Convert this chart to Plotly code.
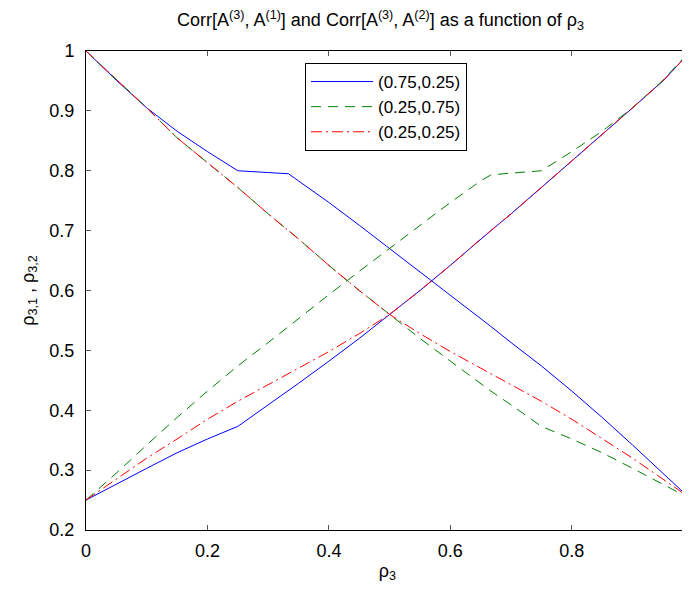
import plotly.graph_objects as go

# x grid (rho_3)
rho3 = [0, 0.05, 0.1, 0.15, 0.2, 0.25, 0.3, 1/3, 0.35, 0.4, 0.45, 0.5,
        0.55, 0.6, 0.65, 2/3, 0.7, 0.75, 0.8, 0.85, 0.9, 0.95, 0.99]

# (0.75,0.25)
blue_desc = [1.0, 0.951, 0.905, 0.866, 0.832, 0.800, 0.797, 0.795, 0.783, 0.747, 0.709, 0.670,
             0.632, 0.593, 0.553, 0.540, 0.513, 0.474, 0.432, 0.388, 0.342, 0.295, 0.257]
blue_asc = [0.250, 0.277, 0.303, 0.329, 0.352, 0.373, 0.409, 0.432, 0.445, 0.482, 0.520, 0.560,
            0.600, 0.642, 0.686, 0.700, 0.728, 0.772, 0.816, 0.860, 0.905, 0.950, 0.993]
# (0.25,0.75)
green_desc = [1.0, 0.952, 0.905, 0.855, 0.813, 0.772, 0.728, 0.700, 0.686, 0.642, 0.600, 0.560,
              0.520, 0.482, 0.445, 0.432, 0.409, 0.373, 0.352, 0.329, 0.303, 0.277, 0.255]
green_asc = [0.250, 0.295, 0.342, 0.388, 0.432, 0.474, 0.513, 0.540, 0.553, 0.593, 0.632, 0.670,
             0.709, 0.747, 0.783, 0.793, 0.796, 0.800, 0.832, 0.866, 0.905, 0.951, 0.995]
# (0.25,0.25)
red_desc = [1.0, 0.952, 0.905, 0.855, 0.813, 0.772, 0.728, 0.700, 0.686, 0.642, 0.600, 0.560,
            0.528, 0.498, 0.470, 0.461, 0.443, 0.415, 0.385, 0.352, 0.320, 0.285, 0.257]
red_asc = [0.250, 0.285, 0.320, 0.352, 0.385, 0.415, 0.443, 0.461, 0.470, 0.498, 0.528, 0.560,
           0.600, 0.642, 0.686, 0.700, 0.728, 0.772, 0.816, 0.860, 0.905, 0.950, 0.993]

series_names = ["(0.75,0.25)", "(0.25,0.75)", "(0.25,0.25)"]
xtick_vals = [0, 0.2, 0.4, 0.6, 0.8]
xtick_text = ["0", "0.2", "0.4", "0.6", "0.8"]
ytick_vals = [0.2, 0.3, 0.4, 0.5, 0.6, 0.7, 0.8, 0.9, 1.0]
ytick_text = ["0.2", "0.3", "0.4", "0.5", "0.6", "0.7", "0.8", "0.9", "1"]

FONT = "Liberation Sans, Arial, sans-serif"

# the page body adds an 8px offset; figure is sized to fill the rest of the window
W, H = 682, 585

styles = [
    dict(color="#0000ff", width=1, dash="solid"),
    dict(color="#008000", width=1, dash="10px,7px"),
    dict(color="#ff0000", width=1, dash="11px,4px,2px,4px"),
]
pairs = [(blue_desc, blue_asc), (green_desc, green_asc), (red_desc, red_asc)]

fig = go.Figure()
for name, style, (desc, asc) in zip(series_names, styles, pairs):
    fig.add_trace(go.Scatter(
        x=list(rho3) + [None] + list(rho3),
        y=list(desc) + [None] + list(asc),
        mode="lines", name=name, line=style, connectgaps=False,
        cliponaxis=False,
    ))

fig.update_layout(
    width=W, height=H,
    margin=dict(l=78, r=1, t=43, b=63, autoexpand=False),
    paper_bgcolor="white", plot_bgcolor="white",
    font=dict(family=FONT, size=18, color="black"),
    title=dict(
        text="Corr[A<sup>(3)</sup>, A<sup>(1)</sup>] and Corr[A<sup>(3)</sup>, A<sup>(2)</sup>] as a function of ρ<sub>3</sub>",
        x=169 / W, xanchor="left", y=1 - 12 / H, yanchor="middle",
        font=dict(family=FONT, size=18, color="black"),
    ),
    legend=dict(
        x=(305 - 86) / 603, y=(530 - 63) / 479, xanchor="left", yanchor="top",
        bordercolor="black", borderwidth=1, bgcolor="white",
        font=dict(family=FONT, size=17, color="black"),
        tracegroupgap=0, itemwidth=62,
    ),
    showlegend=True,
)
fig.update_xaxes(
    range=[0, 0.993], tickvals=xtick_vals, ticktext=xtick_text,
    showgrid=False, zeroline=False, showline=True, linecolor="black", linewidth=1,
    mirror="ticks", ticks="inside", ticklen=5, tickcolor="#555555",
    automargin=False, ticklabelstandoff=4,
    title=dict(text="ρ<sub>3</sub>", font=dict(family=FONT, size=18), standoff=4),
)
fig.update_yaxes(
    range=[0.2, 1.0], tickvals=ytick_vals, ticktext=ytick_text,
    showgrid=False, zeroline=False, showline=True, linecolor="black", linewidth=1,
    mirror="ticks", ticks="inside", ticklen=5, tickcolor="#555555",
    automargin=False, ticklabelstandoff=7,
    title=dict(text="ρ<sub>3,1</sub> , ρ<sub>3,2</sub>", font=dict(family=FONT, size=18), standoff=10),
)

fig.write_html("out.html")
